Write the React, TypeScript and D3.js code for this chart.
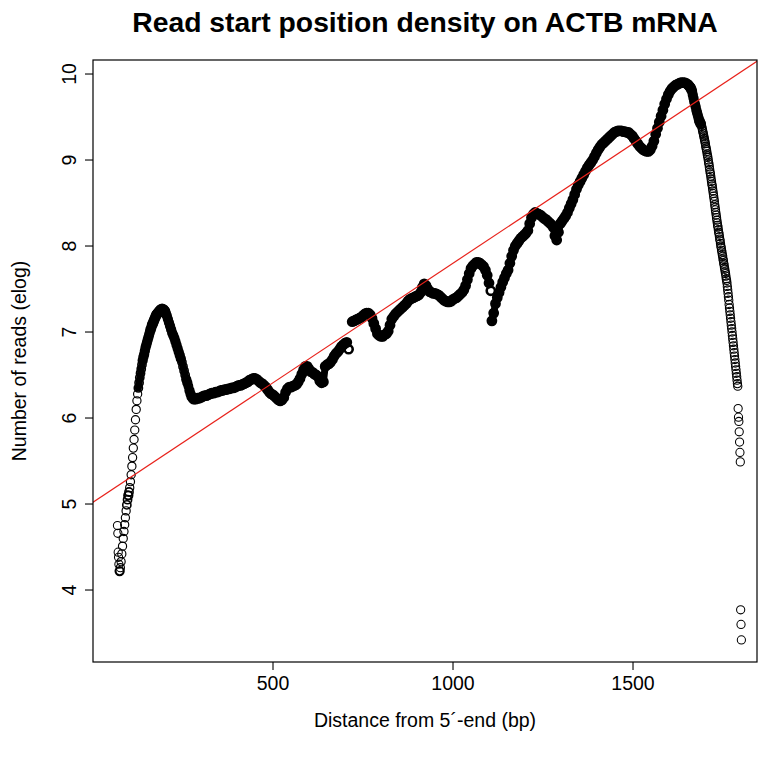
import React from "react";
import * as d3 from "d3";

// ---- data ----
const xTicks = [500, 1000, 1500];
const yTicks = [4, 5, 6, 7, 8, 9, 10];

const earlyPositions = [68, 69, 70, 71, 72];
const earlyValues = [4.75, 4.66, 4.44, 4.38, 4.3];

// rise to the 5' peak, every 2 bp from 74
const riseStart = 74;
const riseStep = 2;
const riseValues = [
  4.22, 4.26, 4.33, 4.42, 4.51, 4.6, 4.68, 4.76, 4.84, 4.92, 4.99, 5.05, 5.1, 5.14, 5.19, 5.26, 5.34, 5.44,
  5.54, 5.65, 5.75, 5.86, 5.98, 6.1, 6.2, 6.28, 6.35, 6.41, 6.47, 6.52, 6.57, 6.62, 6.67, 6.71, 6.74, 6.78,
  6.82, 6.85, 6.88, 6.91, 6.94, 6.97, 7.0, 7.03, 7.05, 7.08, 7.1, 7.12, 7.14, 7.16, 7.18, 7.2, 7.21, 7.22,
  7.23, 7.24, 7.25, 7.26, 7.26, 7.27, 7.26, 7.26, 7.25, 7.24,
];

// fall after the peak, every 3 bp from 202
const fallStart = 202;
const fallStep = 3;
const fallValues = [
  7.22, 7.19, 7.15, 7.11, 7.07, 7.03, 6.99, 6.96, 6.93, 6.89, 6.85, 6.81, 6.77, 6.73, 6.69, 6.65, 6.6, 6.55,
  6.5, 6.45, 6.41, 6.37, 6.32, 6.28, 6.25, 6.23, 6.22,
];

// body part 1, every 5 bp from 285
const bodyAStart = 285;
const bodyAStep = 5;
const bodyAValues = [
  6.22, 6.23, 6.23, 6.24, 6.25, 6.26, 6.26, 6.27, 6.28, 6.29, 6.29, 6.3, 6.3, 6.31, 6.32, 6.32, 6.33, 6.33,
  6.34, 6.34, 6.35, 6.35, 6.36, 6.37, 6.38, 6.38, 6.39, 6.4, 6.41, 6.42, 6.44, 6.45, 6.46, 6.46, 6.45, 6.43,
  6.41, 6.4, 6.38, 6.36, 6.33, 6.3, 6.28, 6.27, 6.25, 6.23, 6.21, 6.2, 6.21, 6.24, 6.3, 6.34, 6.36, 6.36,
  6.37, 6.38, 6.39, 6.42, 6.46, 6.51, 6.56, 6.6, 6.6, 6.57, 6.54, 6.53, 6.51, 6.5, 6.48, 6.43, 6.41, 6.42,
  6.6, 6.62, 6.63, 6.65, 6.68, 6.72, 6.75, 6.77, 6.8, 6.83, 6.85, 6.87, 6.88, 6.8,
];

// body part 2, every 5 bp from 720
const bodyBStart = 720;
const bodyBStep = 5;
const bodyBValues = [
  7.12, 7.13, 7.14, 7.15, 7.16, 7.17, 7.19, 7.21, 7.22, 7.22, 7.2, 7.16, 7.1, 7.04, 6.98, 6.96, 6.95, 6.95,
  6.97, 6.98, 7.01, 7.08, 7.15, 7.18, 7.21, 7.23, 7.25, 7.27, 7.29, 7.31, 7.33, 7.36, 7.38, 7.39, 7.4, 7.41,
  7.42, 7.43, 7.46, 7.52, 7.56, 7.54, 7.5, 7.47, 7.46, 7.45, 7.45, 7.44, 7.43, 7.41, 7.39, 7.37, 7.36, 7.35,
  7.35, 7.36, 7.38, 7.39, 7.4, 7.42, 7.44, 7.46, 7.49, 7.54, 7.61, 7.68, 7.74, 7.77, 7.79, 7.81, 7.81, 7.8,
  7.78, 7.76, 7.72, 7.66, 7.57, 7.48,
];

// body part 3, every 5 bp from 1108
const bodyCStart = 1108;
const bodyCStep = 5;
const bodyCValues = [
  7.13, 7.22, 7.33, 7.4, 7.46, 7.52, 7.58, 7.63, 7.68, 7.72, 7.8, 7.88, 7.95, 8.0, 8.03, 8.06, 8.09, 8.11,
  8.13, 8.15, 8.18, 8.26, 8.33, 8.37, 8.39, 8.38, 8.37, 8.36, 8.34, 8.32, 8.31, 8.29, 8.27, 8.25, 8.22, 8.12,
  8.07, 8.16, 8.26, 8.29, 8.32, 8.35, 8.39, 8.44, 8.49, 8.54, 8.6, 8.66, 8.71, 8.75, 8.79, 8.83, 8.87, 8.91,
  8.94, 8.97, 9.0, 9.04, 9.08, 9.12, 9.15, 9.18, 9.2, 9.22, 9.24, 9.26, 9.28, 9.3, 9.32, 9.33, 9.34, 9.34,
  9.34, 9.33, 9.33, 9.32, 9.32, 9.3, 9.28, 9.25, 9.22, 9.19, 9.16, 9.14, 9.12, 9.11, 9.1, 9.1, 9.12, 9.16,
  9.22, 9.3, 9.37, 9.44, 9.51, 9.58, 9.65, 9.71, 9.76, 9.8, 9.83, 9.85, 9.87, 9.88, 9.89, 9.9, 9.9, 9.9, 9.89,
];

// 3' peak shoulder, every 2 bp from 1652
const shoulderStart = 1652;
const shoulderStep = 2;
const shoulderValues = [
  9.88, 9.87, 9.86, 9.85, 9.84, 9.82, 9.8, 9.76, 9.72, 9.68, 9.65, 9.62, 9.58, 9.55, 9.52, 9.49, 9.46, 9.44,
  9.42,
];

// 3' tail, every bp from 1690
const tailStart = 1690;
const tailStep = 1;
const tailValues = [
  9.41, 9.39, 9.37, 9.35, 9.33, 9.31, 9.29, 9.27, 9.25, 9.23, 9.21, 9.19, 9.16, 9.14, 9.12, 9.1, 9.07, 9.05,
  9.03, 9.0, 8.97, 8.95, 8.92, 8.89, 8.86, 8.84, 8.81, 8.78, 8.75, 8.72, 8.7, 8.67, 8.64, 8.61, 8.58, 8.55,
  8.52, 8.48, 8.45, 8.42, 8.39, 8.36, 8.33, 8.3, 8.27, 8.24, 8.22, 8.19, 8.16, 8.14, 8.11, 8.08, 8.06, 8.03,
  8.0, 7.98, 7.95, 7.93, 7.9, 7.88, 7.85, 7.83, 7.8, 7.78, 7.75, 7.73, 7.7, 7.68, 7.65, 7.62, 7.6, 7.57, 7.53,
  7.49, 7.45, 7.41, 7.37, 7.32, 7.28, 7.24, 7.2, 7.16, 7.12, 7.08, 7.04, 7.0, 6.96, 6.92, 6.88, 6.84, 6.8,
  6.76, 6.72, 6.68, 6.64, 6.6, 6.56, 6.52, 6.48, 6.44, 6.4, 6.37,
];

const endPositions = [1792, 1793, 1794, 1795, 1796, 1797, 1798, 1799, 1800, 1801];
const endValues = [6.11, 6.01, 5.96, 5.84, 5.72, 5.6, 5.49, 3.77, 3.6, 3.42];

// linear fit (red line)
const fitIntercept = 5.02;
const fitSlope = 0.00278;

// ---- layout ----
const W = 771;
const H = 761;
const L = 93;
const R = 757;
const T = 60;
const B = 662;
const FONT = "'Liberation Sans', Arial, Helvetica, sans-serif";
const AX = 19.5;

const x = d3.scaleLinear().domain([0, 1844.4]).range([L, R]);
const y = d3.scaleLinear().domain([3.163, 10.163]).range([B, T]);

// ---- build points ----
type Pt = { x: number; y: number; w: number };
// every sample of a coarser grid stands for several overlapping per-bp circles,
// so where samples crowd together they get a heavier outline
const fromGrid = (start: number, step: number, vals: number[]): Pt[] =>
  vals.map((v, i) => {
    const px = start + i * step;
    const j = i < vals.length - 1 ? i + 1 : i - 1;
    const d = Math.hypot(x(start + j * step) - x(px), y(vals[j]) - y(v));
    let w = 1.1;
    if (step >= 5) w = 2.6;
    else if (step >= 2) w = d < 2.6 ? 2.5 : d < 4 ? 2.1 : d < 6 ? 1.6 : 1.15;
    return { x: px, y: v, w };
  });

const rise = fromGrid(riseStart, riseStep, riseValues);
const fall = fromGrid(fallStart, fallStep, fallValues);
const bodyA = fromGrid(bodyAStart, bodyAStep, bodyAValues);
const bodyB = fromGrid(bodyBStart, bodyBStep, bodyBValues);
const bodyC = fromGrid(bodyCStart, bodyCStep, bodyCValues);
const shoulder = fromGrid(shoulderStart, shoulderStep, shoulderValues);
const tail = fromGrid(tailStart, tailStep, tailValues);

const points: Pt[] = [
  ...earlyPositions.map((px, i) => ({ x: px, y: earlyValues[i], w: 1.05 })),
  ...rise,
  ...fall,
  ...bodyA,
  ...bodyB,
  ...bodyC,
  ...shoulder,
  ...tail,
  ...endPositions.map((px, i) => ({ x: px, y: endValues[i], w: 1.05 })),
];

// dense stretches where the overlapping circles merge into a solid band
const denseRuns: Pt[][] = [rise.slice(26), fall, bodyA, bodyB, bodyC, shoulder];

export default function App() {
  const [d0, d1] = x.domain();
  const fit = d3
    .line<number>()
    .x((d) => x(d))
    .y((d) => y(fitIntercept + fitSlope * d));
  const band = d3
    .line<Pt>()
    .x((d) => x(d.x))
    .y((d) => y(d.y));

  return (
    <svg
      width={W}
      height={H}
      style={{ position: "absolute", left: 0, top: 0, display: "block", background: "#fff" }}
      fontFamily={FONT}
    >
      <rect x={0} y={0} width={W} height={H} fill="#fff" />
      <defs>
        <clipPath id="plotclip">
          <rect x={L} y={T} width={R - L} height={B - T} />
        </clipPath>
      </defs>
      <text x={(L + R) / 2} y={32} textAnchor="middle" fontWeight="bold" fontSize={28.3}>
        Read start position density on ACTB mRNA
      </text>
      <g>
        {denseRuns.map((run, k) => (
          <path
            key={k}
            d={band(run.slice(0, run.length - 1)) || ""}
            fill="none"
            stroke="#000"
            strokeWidth={7}
            strokeLinejoin="round"
            strokeLinecap="round"
          />
        ))}
        {points.map((p, i) => (
          <circle key={i} cx={x(p.x)} cy={y(p.y)} r={4.1} fill="none" stroke="#000" strokeWidth={p.w} />
        ))}
      </g>
      <path
        d={fit([d0 - 100, d1 + 100]) || ""}
        stroke="#e8221b"
        strokeWidth={1.2}
        fill="none"
        clipPath="url(#plotclip)"
      />
      <rect x={L} y={T} width={R - L} height={B - T} fill="none" stroke="#000" strokeWidth={1.2} />
      {xTicks.map((t) => (
        <g key={t}>
          <line x1={x(t)} x2={x(t)} y1={B} y2={B + 8} stroke="#000" strokeWidth={1.1} />
          <text x={x(t)} y={690} textAnchor="middle" fontSize={AX}>
            {t}
          </text>
        </g>
      ))}
      {yTicks.map((t) => (
        <g key={t}>
          <line x1={L - 8} x2={L} y1={y(t)} y2={y(t)} stroke="#000" strokeWidth={1.1} />
          <text transform={`translate(76,${y(t)}) rotate(-90)`} textAnchor="middle" fontSize={AX}>
            {t}
          </text>
        </g>
      ))}
      <text x={(L + R) / 2} y={727} textAnchor="middle" fontSize={AX}>
        Distance from 5´-end (bp)
      </text>
      <text transform={`translate(26,${(T + B) / 2}) rotate(-90)`} textAnchor="middle" fontSize={AX}>
        Number of reads (elog)
      </text>
    </svg>
  );
}
